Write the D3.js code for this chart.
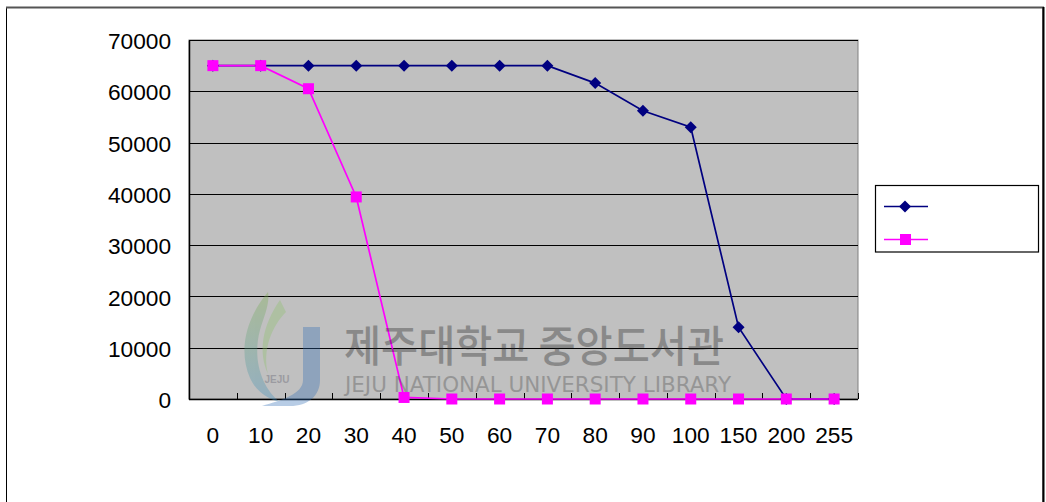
<!DOCTYPE html>
<html>
<head>
<meta charset="utf-8">
<script src="https://cdn.jsdelivr.net/npm/d3@7/dist/d3.min.js"></script>
<style>
  html, body { margin: 0; padding: 0; background: #ffffff; }
  svg { display: block; }
  text { font-family: "Liberation Sans", Arial, sans-serif; fill: #000; }
</style>
</head>
<body>
<svg id="chart" width="1046" height="502"></svg>
<script>
// Threshold categories along the x axis
const categories = ["0", "10", "20", "30", "40", "50", "60", "70", "80", "90", "100", "150", "200", "255"];
// Series values (pixel counts per threshold)
const seriesA = [65000, 65000, 65000, 65000, 65000, 65000, 65000, 65000, 61600, 56200, 53000, 14000, 0, 0];
const seriesB = [65000, 65000, 60500, 39400, 300, 0, 0, 0, 0, 0, 0, 0, 0, 0];
const yTicks = [0, 10000, 20000, 30000, 40000, 50000, 60000, 70000];
const seriesNames = ["", ""];

const svg = d3.select("#chart");
const plot = { left: 189, right: 858, top: 40, bottom: 399 };

const x = d3.scaleBand().domain(categories).range([plot.left, plot.right]).paddingInner(0).paddingOuter(0);
const y = d3.scaleLinear().domain([0, 70000]).range([plot.bottom, plot.top]);
const cx = d => x(d) + x.bandwidth() / 2;

// Outer chart frame
svg.append("rect").attr("x", 6.5).attr("y", 7.5).attr("width", 1036.5).attr("height", 520)
  .attr("fill", "#fff").attr("stroke", "#000").attr("stroke-width", 1);
svg.append("line").attr("x1", 6).attr("x2", 1044).attr("y1", 7.5).attr("y2", 7.5)
  .attr("stroke", "#555").attr("stroke-width", 2);
svg.append("line").attr("x1", 1043.5).attr("x2", 1043.5).attr("y1", 7).attr("y2", 502)
  .attr("stroke", "#000").attr("stroke-width", 2);

// Plot area background
svg.append("rect").attr("x", plot.left).attr("y", plot.top)
  .attr("width", plot.right - plot.left).attr("height", plot.bottom - plot.top)
  .attr("fill", "#c0c0c0").attr("stroke", "#808080").attr("stroke-width", 1);

// Horizontal gridlines
svg.append("g").selectAll("line").data(yTicks.filter(v => v > 0)).join("line")
  .attr("x1", plot.left).attr("x2", plot.right)
  .attr("y1", d => Math.round(y(d)) + 0.5).attr("y2", d => Math.round(y(d)) + 0.5)
  .attr("stroke", "#000").attr("stroke-width", 1.2);

// Y axis
const yAxis = svg.append("g").attr("transform", `translate(${plot.left},0)`)
  .call(d3.axisLeft(y).tickValues(yTicks).tickSize(0).tickPadding(18).tickFormat(d3.format("d")));
yAxis.select(".domain").attr("stroke", "#000").attr("stroke-width", 1.5);
yAxis.selectAll("text").style("font-size", "22.7px").attr("dy", "0.38em")
  .style("font-family", "'Liberation Sans', Arial, sans-serif");

// X axis baseline with upward ticks at category boundaries
const xg = svg.append("g");
xg.append("line").attr("x1", plot.left).attr("x2", plot.right)
  .attr("y1", plot.bottom + 0.5).attr("y2", plot.bottom + 0.5)
  .attr("stroke", "#000").attr("stroke-width", 1.5);
const boundaries = categories.map(c => x(c)).concat([x(categories[categories.length - 1]) + x.bandwidth()]);
xg.selectAll("line.tick").data(boundaries).join("line").attr("class", "tick")
  .attr("x1", d => Math.round(d) + 0.5).attr("x2", d => Math.round(d) + 0.5)
  .attr("y1", plot.bottom).attr("y2", plot.bottom - 6)
  .attr("stroke", "#000").attr("stroke-width", 1);
xg.selectAll("text").data(categories).join("text")
  .attr("x", d => cx(d)).attr("y", 443)
  .attr("text-anchor", "middle").style("font-size", "22.7px").text(d => d);

// Series lines and markers
const line = d3.line().x((d, i) => cx(categories[i])).y(d => y(d));
// square diamond marker (rotated square), half-diagonal 6px
const diamondPath = "M0,-6L6,0L0,6L-6,0Z";

svg.append("path").datum(seriesA).attr("d", line)
  .attr("fill", "none").attr("stroke", "#000080").attr("stroke-width", 1.7);
svg.append("path").datum(seriesB).attr("d", line)
  .attr("fill", "none").attr("stroke", "#ff00ff").attr("stroke-width", 1.7);

svg.append("g").selectAll("path").data(seriesA).join("path")
  .attr("d", diamondPath)
  .attr("transform", (d, i) => `translate(${cx(categories[i])},${y(d)})`)
  .attr("fill", "#000080");
svg.append("g").selectAll("rect").data(seriesB).join("rect")
  .attr("x", (d, i) => cx(categories[i]) - 5.5).attr("y", d => y(d) - 5.5)
  .attr("width", 11).attr("height", 11).attr("fill", "#ff00ff");

// Legend
const lg = svg.append("g");
lg.append("rect").attr("x", 875.5).attr("y", 185.5).attr("width", 163).attr("height", 66.5)
  .attr("fill", "#fff").attr("stroke", "#000").attr("stroke-width", 1.2);
const legendItems = [
  { name: seriesNames[0], color: "#000080", shape: "diamond", y: 206.5 },
  { name: seriesNames[1], color: "#ff00ff", shape: "square", y: 239.5 }
];
legendItems.forEach(it => {
  lg.append("line").attr("x1", 884).attr("x2", 928).attr("y1", it.y).attr("y2", it.y)
    .attr("stroke", it.color).attr("stroke-width", 1.7);
  if (it.shape === "diamond") {
    lg.append("path").attr("d", diamondPath).attr("transform", `translate(905,${it.y})`).attr("fill", it.color);
  } else {
    lg.append("rect").attr("x", 900).attr("y", it.y - 5.5).attr("width", 11).attr("height", 11).attr("fill", it.color);
  }
  lg.append("text").attr("x", 936).attr("y", it.y).attr("dy", "0.35em")
    .style("font-size", "18px").text(it.name);
});

// Library watermark overlay
const wm = svg.append("g").attr("opacity", 0.34).style("pointer-events", "none");
const grad = svg.append("defs").append("linearGradient").attr("id", "swoosh").attr("x1", 0).attr("y1", 0).attr("x2", 0).attr("y2", 1);
grad.append("stop").attr("offset", "0").attr("stop-color", "#7fb04a");
grad.append("stop").attr("offset", "1").attr("stop-color", "#3d8fc4");
wm.append("path").attr("d", "M268,292 C246,318 238,350 250,378 C256,392 270,400 280,402 C262,388 252,360 260,330 C264,316 270,304 268,292 Z")
  .attr("fill", "url(#swoosh)");
wm.append("path").attr("d", "M280,300 C262,326 258,352 268,374 C262,350 272,326 286,312 Z")
  .attr("fill", "#8cc06a");
wm.append("path").attr("d", "M303,327 L320,327 L320,380 C320,396 308,406 290,406 L262,406 C282,400 303,394 303,380 Z")
  .attr("fill", "#2f6db5");
wm.append("text").attr("x", 277).attr("y", 383).attr("text-anchor", "middle")
  .style("font-size", "10px").style("font-weight", "bold").style("fill", "#556").text("JEJU");
wm.append("text").attr("x", 344).attr("y", 362)
  .style("font-family", "'Noto Sans CJK KR', sans-serif").style("font-size", "43px").style("font-weight", "500")
  .style("fill", "#222").attr("textLength", 380).attr("lengthAdjust", "spacingAndGlyphs")
  .text("제주대학교 중앙도서관");
wm.append("text").attr("x", 345).attr("y", 392)
  .style("font-family", "'DejaVu Sans', sans-serif").style("font-size", "21px")
  .style("fill", "#444").attr("textLength", 386).attr("lengthAdjust", "spacingAndGlyphs")
  .text("JEJU NATIONAL UNIVERSITY  LIBRARY");
</script>
</body>
</html>
